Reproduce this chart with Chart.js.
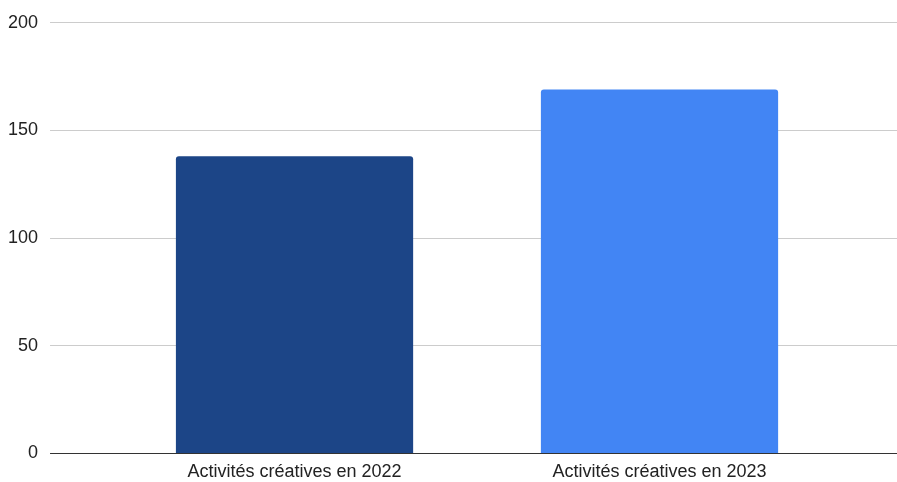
<!DOCTYPE html>
<html>
<head>
<meta charset="utf-8">
<script src="https://cdn.jsdelivr.net/npm/chart.js@4"></script>
<style>
  body { margin: 0; background: #fff; }
  #wrap { width: 897px; height: 482px; position: relative; }
</style>
</head>
<body>
<div id="wrap"><canvas id="activityChart"></canvas></div>
<script>
const categories = ['Activités créatives en 2022', 'Activités créatives en 2023'];
const activityCounts = [138, 169];
const yTickValues = [0, 50, 100, 150, 200];

const barColors = ['#1c4587', '#4285f4'];

function gridColor(ctx) {
    // zero line is the dark baseline
    return ctx.tick && ctx.tick.value === 0 ? '#333333' : '#cccccc';
}

function useTickValues(scale) {
    scale.ticks = yTickValues.map(v => ({ value: v }));
}

document.addEventListener('DOMContentLoaded', function() {
    const ctx = document.getElementById('activityChart');
    new Chart(ctx, {
        type: 'bar',
        data: {
            labels: categories,
            datasets: [{
                data: activityCounts,
                backgroundColor: barColors,
                borderRadius: { topLeft: 3, topRight: 3 },
                borderSkipped: 'bottom',
                barPercentage: 0.65,
                categoryPercentage: 1
            }]
        },
        options: {
            responsive: true,
            maintainAspectRatio: false,
            animation: false,
            layout: { padding: { left: -4, top: 21, right: 0, bottom: -1 } },
            plugins: {
                legend: { display: false },
                tooltip: { enabled: false }
            },
            scales: {
                x: {
                    offset: true,
                    grid: { display: false },
                    border: { display: false },
                    ticks: {
                        color: '#222',
                        padding: 0,
                        font: { family: "'Liberation Sans', Arial, sans-serif", size: 18 }
                    }
                },
                y: {
                    position: 'left',
                    min: 0,
                    max: 200,
                    afterBuildTicks: useTickValues,
                    border: { display: false },
                    grid: {
                        color: gridColor,
                        drawTicks: true,
                        tickLength: 62
                    },
                    ticks: {
                        color: '#222',
                        padding: 12,
                        font: { family: "'Liberation Sans', Arial, sans-serif", size: 18 }
                    }
                },
                yRight: {
                    position: 'right',
                    min: 0,
                    max: 200,
                    afterBuildTicks: useTickValues,
                    border: { display: false },
                    grid: {
                        color: gridColor,
                        drawOnChartArea: false,
                        drawTicks: true,
                        tickLength: 55
                    },
                    ticks: { display: false }
                }
            }
        }
    });
});
</script>
</body>
</html>
